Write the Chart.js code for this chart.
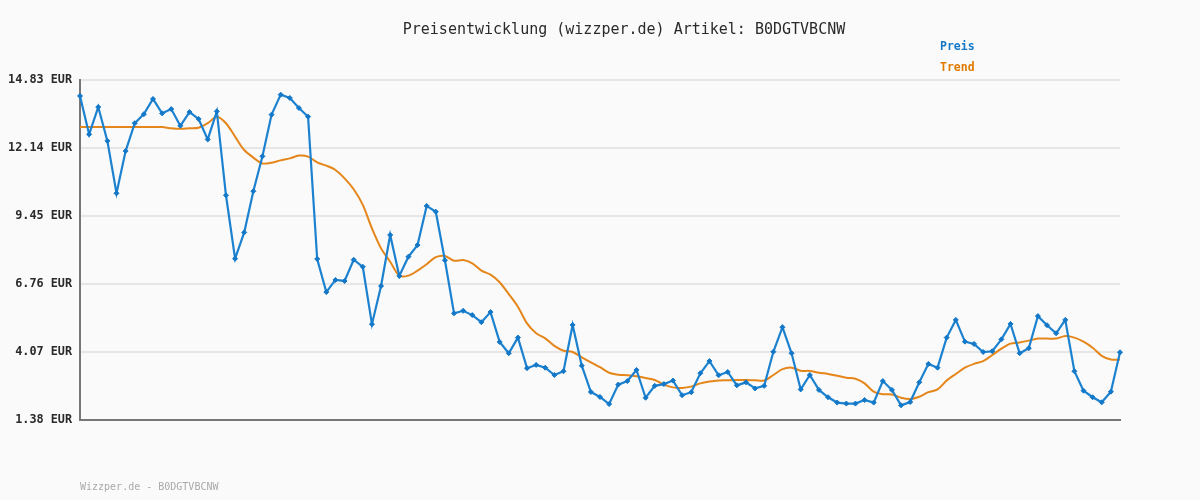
<!DOCTYPE html>
<html>
<head>
<meta charset="utf-8">
<script src="https://cdn.jsdelivr.net/npm/chart.js@4"></script>
<style>
  html, body { margin: 0; padding: 0; background: #fafafa; }
  #wrap { position: relative; width: 1200px; height: 500px; }
  .txt { position: absolute; font-family: "DejaVu Sans Mono", monospace; white-space: nowrap; }
  #title { left: 0; width: 1248px; top: 20px; text-align: center; font-size: 15px; color: #2a2a2a; }
  #legPreis { left: 940px; top: 39px; font-size: 11.5px; font-weight: bold; color: #1478c8; }
  #legTrend { left: 940px; top: 60px; font-size: 11.5px; font-weight: bold; color: #e07b00; }
  #footer { left: 80px; top: 481px; font-size: 10px; color: #aaa; }
</style>
</head>
<body>
<div id="wrap">
  <canvas id="chart" width="1200" height="500"></canvas>
  <div class="txt" id="title">Preisentwicklung (wizzper.de) Artikel: B0DGTVBCNW</div>
  <div class="txt" id="legPreis">Preis</div>
  <div class="txt" id="legTrend">Trend</div>
  <div class="txt" id="footer">Wizzper.de - B0DGTVBCNW</div>
</div>
<script>
const preis = [
  14.20, 12.68, 13.76, 12.42, 10.35, 12.02, 13.12, 13.48, 14.08, 13.51,
  13.68, 13.02, 13.56, 13.29, 12.48, 13.59, 10.27, 7.76, 8.80, 10.43,
  11.81, 13.46, 14.25, 14.12, 13.72, 13.38, 7.75, 6.44, 6.92, 6.88,
  7.72, 7.44, 5.17, 6.68, 8.70, 7.08, 7.84, 8.30, 9.85, 9.62,
  7.70, 5.60, 5.70, 5.53, 5.25, 5.65, 4.47, 4.02, 4.64, 3.43,
  3.56, 3.45, 3.16, 3.31, 5.14, 3.53, 2.49, 2.29, 2.01, 2.78,
  2.92, 3.36, 2.26, 2.73, 2.80, 2.94, 2.36, 2.48, 3.23, 3.71,
  3.15, 3.28, 2.75, 2.87, 2.63, 2.73, 4.08, 5.05, 4.02, 2.59,
  3.16, 2.57, 2.28, 2.07, 2.03, 2.03, 2.17, 2.07, 2.92, 2.57,
  1.96, 2.09, 2.87, 3.60, 3.45, 4.64, 5.34, 4.48, 4.39, 4.07,
  4.10, 4.57, 5.18, 4.02, 4.22, 5.49, 5.13, 4.81, 5.34, 3.31,
  2.54, 2.28, 2.08, 2.50, 4.06
];

const trend = [
  12.97, 12.97, 12.97, 12.97, 12.97, 12.97, 12.97, 12.97, 12.97, 12.97,
  12.92, 12.90, 12.92, 12.94, 13.12, 13.38, 13.12, 12.59, 12.06, 11.76,
  11.53, 11.56, 11.65, 11.73, 11.84, 11.80, 11.57, 11.44, 11.27, 10.94,
  10.51, 9.89, 8.96, 8.17, 7.64, 7.09, 7.09, 7.29, 7.54, 7.82,
  7.87, 7.68, 7.71, 7.58, 7.29, 7.13, 6.83, 6.36, 5.86, 5.20,
  4.81, 4.61, 4.31, 4.12, 4.07, 3.86, 3.66, 3.47, 3.25, 3.17,
  3.15, 3.11, 3.04, 2.96, 2.78, 2.67, 2.65, 2.70, 2.83, 2.90,
  2.94, 2.95, 2.96, 2.96, 2.95, 2.94, 3.16, 3.39, 3.45, 3.33,
  3.32, 3.25, 3.20, 3.13, 3.05, 3.01, 2.83, 2.50, 2.40, 2.39,
  2.26, 2.21, 2.30, 2.48, 2.59, 2.94, 3.20, 3.45, 3.60, 3.71,
  3.95, 4.20, 4.40, 4.45, 4.52, 4.60, 4.60, 4.60, 4.70, 4.64,
  4.48, 4.24, 3.92, 3.77, 3.77
];

const labels = preis.map((v, i) => String(i + 1));

const yMin = 1.38;
const yMax = 14.83;
const yStep = 2.69;

const ctx = document.getElementById("chart").getContext("2d");
new Chart(ctx, {
  type: "line",
  data: {
    labels: labels,
    datasets: [
      {
        label: "Trend",
        data: trend,
        borderColor: "#e5861a",
        borderWidth: 2,
        pointRadius: 0,
        tension: 0.3,
        fill: false,
        order: 2,
      },
      {
        label: "Preis",
        data: preis,
        borderColor: "#1c82cf",
        backgroundColor: "#1478c8",
        borderWidth: 2.2,
        pointStyle: "rectRot",
        pointRadius: 2.5,
        pointBorderWidth: 1,
        pointBorderColor: "#1478c8",
        pointBackgroundColor: "#1478c8",
        tension: 0,
        fill: false,
        order: 1,
      },
    ],
  },
  options: {
    responsive: false,
    animation: false,
    layout: {
      padding: { top: 80, right: 80, bottom: 80, left: 0 },
    },
    plugins: {
      legend: { display: false },
      title: { display: false },
      tooltip: { enabled: false },
    },
    scales: {
      x: {
        type: "category",
        offset: false,
        grid: { display: false, drawTicks: false },
        border: { display: true, color: "#777", width: 2 },
        ticks: { display: false },
        afterFit: (s) => { s.height = 0; },
      },
      y: {
        min: yMin,
        max: yMax,
        afterBuildTicks: (s) => {
          const t = [];
          for (let k = 0; k <= 5; k++) t.push({ value: yMin + k * yStep });
          s.ticks = t;
        },
        afterFit: (s) => { s.width = 80; },
        grid: { color: "#e6e6e6", lineWidth: 2, drawTicks: false },
        border: { display: true, color: "#777", width: 2 },
        ticks: {
          padding: 8,
          color: "#2a2a2a",
          font: { family: "DejaVu Sans Mono", size: 11.8, weight: "bold" },
          callback: (v) => Number(v).toFixed(2) + " EUR",
        },
      },
    },
  },
});
</script>
</body>
</html>
